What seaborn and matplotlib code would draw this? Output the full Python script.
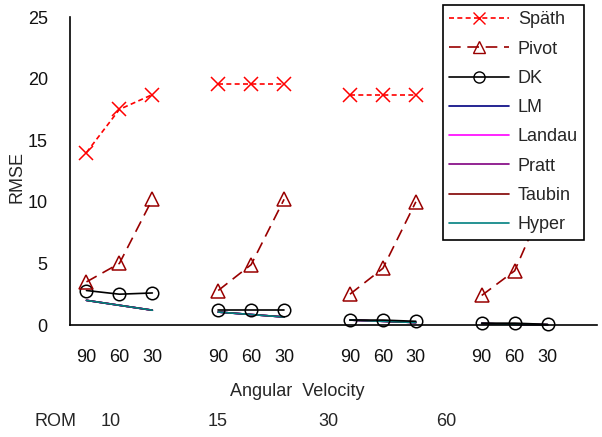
import numpy as np
import pandas as pd
import matplotlib
matplotlib.use("Agg")
import matplotlib.pyplot as plt
from matplotlib.lines import Line2D
import seaborn as sns

# ---------------- data ----------------
rom_labels = ["10", "15", "30", "60"]
velocity_labels = ["90", "60", "30"]
methods = ["Späth", "Pivot", "DK", "LM", "Landau", "Pratt", "Taubin", "Hyper"]

spath  = [14.0, 17.5, 18.7,  19.6, 19.6, 19.6,  18.7, 18.7, 18.7,  18.5, 18.5, 18.5]
pivot  = [3.5, 5.0, 10.2,  2.8, 4.9, 10.2,  2.5, 4.6, 10.0,  2.4, 4.4, 10.5]
dk     = [2.8, 2.5, 2.6,  1.25, 1.25, 1.25,  0.4, 0.4, 0.3,  0.15, 0.15, 0.05]
lm     = [2.0, 1.6, 1.2,  1.05, 0.85, 0.65,  0.4, 0.3, 0.2,  0.12, 0.06, 0.02]
landau = [2.0, 1.6, 1.2,  1.05, 0.85, 0.65,  0.4, 0.3, 0.2,  0.12, 0.06, 0.02]
pratt  = [2.0, 1.6, 1.2,  1.05, 0.85, 0.65,  0.4, 0.3, 0.2,  0.12, 0.06, 0.02]
taubin = [2.0, 1.6, 1.2,  1.05, 0.85, 0.65,  0.4, 0.3, 0.2,  0.12, 0.06, 0.02]
hyper  = [2.0, 1.6, 1.2,  1.05, 0.85, 0.65,  0.4, 0.3, 0.2,  0.12, 0.06, 0.02]
values = [spath, pivot, dk, lm, landau, pratt, taubin, hyper]

colors = ["#FF0000", "#990000", "#000000", "#000080", "#FF00FF", "#800080", "#800000", "#008080"]
styles = [(0, (3, 2)), (0, (7, 4)), "-", "-", "-", "-", "-", "-"]
markers = ["x", "^", "o", None, None, None, None, None]

# ---------------- build long table ----------------
rows = []
for m, vals in zip(methods, values):
    for gi in range(len(rom_labels)):
        for vi in range(len(velocity_labels)):
            rows.append({"method": m, "group": gi, "pos": gi * 4 + vi,
                         "rmse": vals[gi * 3 + vi]})
df = pd.DataFrame(rows)

sns.set_theme(style="white")
plt.rcParams["font.family"] = ["Liberation Sans", "DejaVu Sans"]

fig = plt.figure(figsize=(6.02, 4.37), dpi=100)
ax = fig.add_axes([70 / 602, 1 - 325 / 437, 527 / 602, 308 / 437])

draw_order = ["LM", "Landau", "Pratt", "Taubin", "Hyper", "DK", "Pivot", "Späth"]
for m in draw_order:
    i = methods.index(m)
    sub = df[df["method"] == m]
    kw = dict(color=colors[i], linestyle=styles[i], linewidth=1.2, clip_on=False)
    if markers[i] is not None:
        kw.update(marker=markers[i], markersize=10 if markers[i] != "o" else 9,
                  markerfacecolor="none", markeredgecolor=colors[i], markeredgewidth=1.1)
    sns.lineplot(data=sub, x="pos", y="rmse", units="group", estimator=None,
                 ax=ax, legend=False, **kw)

ax.set_xlim(-0.5, 15.5)
ax.set_ylim(0, 25)
ax.set_yticks([0, 5, 10, 15, 20, 25])
ax.set_yticklabels(["0", "5", "10", "15", "20", "25"])
pos = [g * 4 + v for g in range(4) for v in range(3)]
ax.set_xticks(pos)
ax.set_xticklabels(velocity_labels * 4)
ax.tick_params(axis="both", length=0, labelsize=13, colors="#111111")
ax.tick_params(axis="x", pad=17)
ax.tick_params(axis="y", pad=16)
for s in ["top", "right"]:
    ax.spines[s].set_visible(False)
for s in ["left", "bottom"]:
    ax.spines[s].set_color("black")
    ax.spines[s].set_linewidth(1.2)
ax.set_xlabel("")
ax.set_ylabel("RMSE", fontsize=13, labelpad=-2)
ax.yaxis.set_label_coords(-0.085, 0.48)

fig.text(297 / 602, 1 - 392 / 437, "Angular  Velocity", ha="center", va="center", fontsize=13)
fig.text(56 / 602, 1 - 422 / 437, "ROM", ha="center", va="center", fontsize=13)
for lab, xp in zip(rom_labels, [111, 218, 328, 446]):
    fig.text(xp / 602, 1 - 422 / 437, lab, ha="center", va="center", fontsize=13)

handles = []
for i, m in enumerate(methods):
    h = Line2D([], [], color=colors[i], linestyle=styles[i], linewidth=1.2,
               marker=markers[i] if markers[i] else None, markersize=8,
               markerfacecolor="none", markeredgecolor=colors[i])
    handles.append(h)
leg = ax.legend(handles, methods, loc="upper left",
                bbox_to_anchor=(443 / 602, 1 - 5 / 437), bbox_transform=fig.transFigure,
                fontsize=13, frameon=True, fancybox=False, framealpha=1,
                edgecolor="black", handlelength=3.3, labelspacing=0.68,
                handletextpad=0.5, borderpad=0.35, borderaxespad=0)
leg.get_frame().set_linewidth(1.2)
leg.set_zorder(10)

fig.savefig("out.png", dpi=100)
